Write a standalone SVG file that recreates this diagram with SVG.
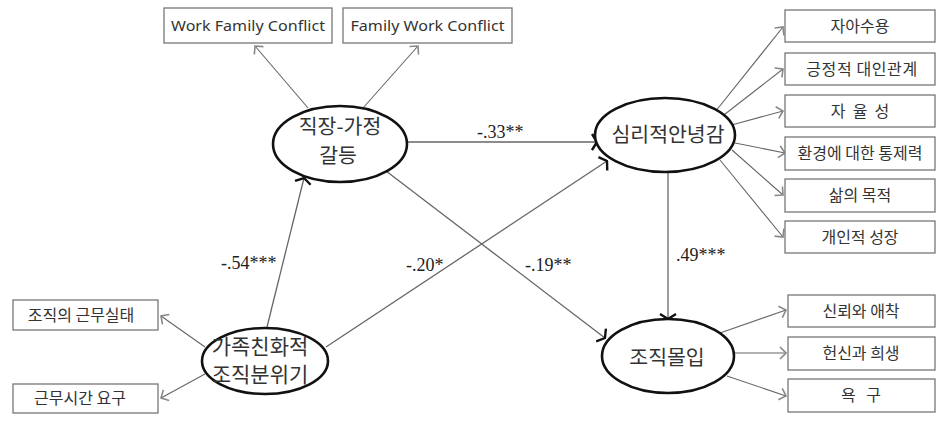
<svg xmlns="http://www.w3.org/2000/svg" width="937" height="428" viewBox="0 0 937 428">
<style>
.bg{fill:#fff}
.box rect{fill:#fff;stroke:#777;stroke-width:1.3}
.box text{font-family:"Noto Sans CJK KR","Noto Sans",sans-serif;font-size:16px;fill:#333;text-anchor:middle;white-space:pre}
.en text{font-family:"Noto Sans","Liberation Sans",sans-serif;font-size:15px}
.lat ellipse{fill:#fff;stroke:#111;stroke-width:2.6}
.lat text{font-family:"Noto Sans CJK KR",sans-serif;font-size:20.5px;fill:#333;text-anchor:middle}
.ind line{stroke:#666;stroke-width:1.1;marker-end:url(#ah)}
.str line{stroke:#666;stroke-width:1.3;marker-end:url(#ap)}
.lbl{font-family:"Liberation Serif",serif;font-size:18px;fill:#222}
</style>
<defs>
<marker id="ah" viewBox="-1 -7 8 14" refX="6" refY="0" markerWidth="8" markerHeight="14" markerUnits="userSpaceOnUse" orient="auto">
<path d="M0,-6 L6,0 L0,6" fill="none" stroke="#888" stroke-width="1.6"/>
</marker>
<marker id="ap" viewBox="-1 -9 7 18" refX="5" refY="0" markerWidth="7" markerHeight="18" markerUnits="userSpaceOnUse" orient="auto">
<path d="M0,-8 L5,0 L0,8" fill="none" stroke="#111" stroke-width="2.4"/>
</marker>
</defs>
<rect class="bg" x="0" y="0" width="937" height="428"/>

<g id="connectors">
<g class="ind">
<line x1="308" y1="108" x2="255" y2="46"/>
<line x1="363" y1="108" x2="418" y2="46"/>
<line x1="715" y1="112" x2="783" y2="27"/>
<line x1="720" y1="118" x2="783" y2="69"/>
<line x1="728" y1="126" x2="783" y2="111"/>
<line x1="735" y1="143" x2="785" y2="153"/>
<line x1="732" y1="150" x2="783" y2="195"/>
<line x1="720" y1="160" x2="783" y2="237"/>
<line x1="720" y1="333" x2="786" y2="310"/>
<line x1="734" y1="353" x2="786" y2="353"/>
<line x1="727" y1="376" x2="786" y2="396"/>
<line x1="205" y1="347" x2="161" y2="316"/>
<line x1="205" y1="374" x2="161" y2="398"/>
</g>
<g class="str">
<line x1="408" y1="142" x2="597" y2="142"/>
<line x1="386" y1="171" x2="605" y2="338"/>
<line x1="267" y1="327" x2="304" y2="178"/>
<line x1="326" y1="347" x2="607" y2="161"/>
<line x1="668" y1="172" x2="668" y2="319"/>
</g>
<text class="lbl" x="477" y="138">-.33**</text>
<text class="lbl" x="221" y="269">-.54***</text>
<text class="lbl" x="406" y="271">-.20*</text>
<text class="lbl" x="525" y="271">-.19**</text>
<text class="lbl" x="676" y="261">.49***</text>
</g>

<g id="n-wfc" class="box en"><rect x="164" y="8" width="168" height="35"/><text x="248" y="31" textLength="154" lengthAdjust="spacingAndGlyphs">Work Family Conflict</text></g>
<g id="n-fwc" class="box en"><rect x="343" y="8" width="169" height="35"/><text x="427.5" y="31" textLength="154" lengthAdjust="spacingAndGlyphs">Family Work Conflict</text></g>

<g id="n-wfconf" class="lat"><ellipse cx="340" cy="144" rx="67" ry="38"/><text><tspan x="340" y="134">직장-가정</tspan><tspan x="338" y="163">갈등</tspan></text></g>
<g id="n-pwb" class="lat"><ellipse cx="665" cy="135" rx="70" ry="37"/><text x="668" y="142">심리적안녕감</text></g>
<g id="n-oc" class="lat"><ellipse cx="668" cy="356" rx="66" ry="37"/><text x="667" y="365">조직몰입</text></g>
<g id="n-ffc" class="lat"><ellipse cx="265" cy="361" rx="63" ry="33"/><text style="font-size:21px"><tspan x="260" y="354">가족친화적</tspan><tspan x="260" y="382">조직분위기</tspan></text></g>

<g id="n-r1" class="box"><rect x="785" y="10" width="150" height="32"/><text x="860" y="32">자아수용</text></g>
<g id="n-r2" class="box"><rect x="785" y="53" width="150" height="32"/><text x="862" y="75" style="letter-spacing:0.6px">긍정적 대인관계</text></g>
<g id="n-r3" class="box"><rect x="785" y="95" width="150" height="32"/><text x="860" y="117">자  율  성</text></g>
<g id="n-r4" class="box"><rect x="785" y="137" width="150" height="33"/><text x="860" y="159">환경에 대한 통제력</text></g>
<g id="n-r5" class="box"><rect x="785" y="179" width="150" height="33"/><text x="860" y="201">삶의 목적</text></g>
<g id="n-r6" class="box"><rect x="785" y="221" width="150" height="32"/><text x="860" y="243">개인적 성장</text></g>

<g id="n-b1" class="box"><rect x="788" y="295" width="147" height="32"/><text x="861" y="317">신뢰와 애착</text></g>
<g id="n-b2" class="box"><rect x="788" y="337" width="147" height="33"/><text x="861" y="359">헌신과 희생</text></g>
<g id="n-b3" class="box"><rect x="788" y="379" width="147" height="33"/><text x="861" y="401">욕   구</text></g>

<g id="n-l1" class="box"><rect x="13" y="300" width="145" height="30"/><text x="81" y="321">조직의 근무실태</text></g>
<g id="n-l2" class="box"><rect x="13" y="384" width="145" height="29"/><text x="80" y="404">근무시간 요구</text></g>
</svg>
